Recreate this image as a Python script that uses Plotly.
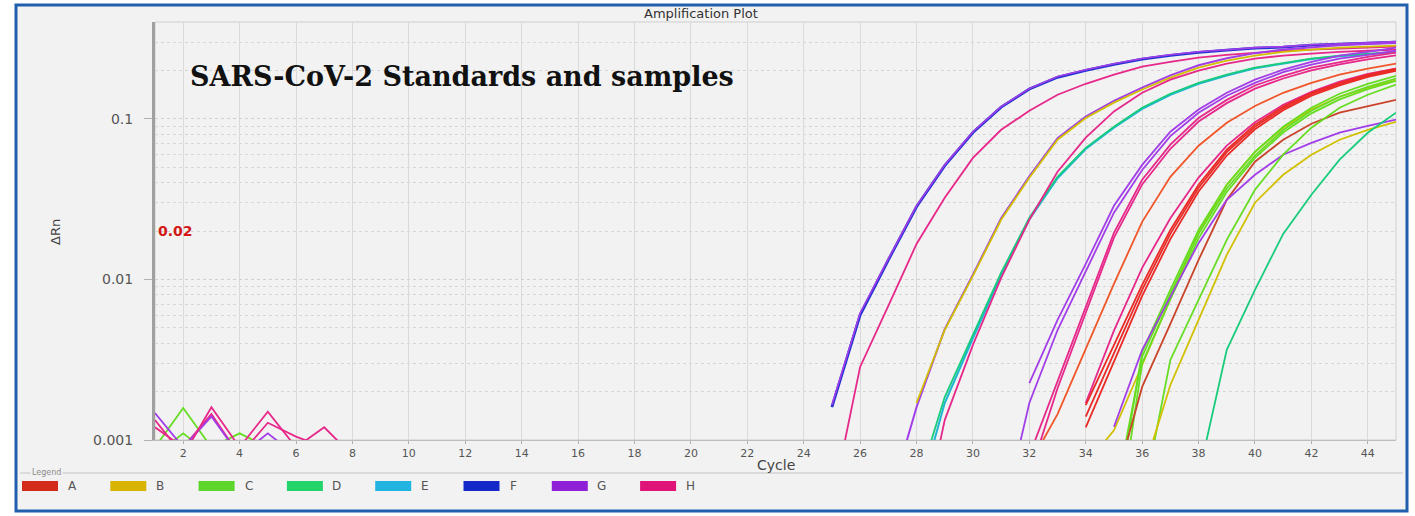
import math
import plotly.graph_objects as go

# ---------------- data ----------------
threshold = 0.02
x_ticks = list(range(2, 45, 2))
y_ticks = [0.001, 0.01, 0.1]
y_tick_text = ["0.001", "0.01", "0.1"]
legend_labels = ["A", "B", "C", "D", "E", "F", "G", "H"]

# baseline noise (cycles 1..)
noise_start = 1
noise_G = [0.00147, 0.0009, 0.0014, 0.0008, 0.0011, 0.0008]
noise_H1 = [0.00133, 0.0008, 0.0016, 0.0009, 0.0015, 0.0009, 0.0012, 0.0008]
noise_H2 = [0.0012, 0.0009, 0.00145, 0.0008, 0.00128, 0.00105, 0.0009]
noise_C1 = [0.0009, 0.00158, 0.0009, 0.0011, 0.0009]
noise_C2 = [0.0008, 0.0011, 0.0008]

# amplification curves: first cycle + ΔRn values per cycle
F1_start = 25
F1 = [0.0016, 0.0060, 0.0132, 0.0283, 0.051, 0.082, 0.118, 0.153, 0.181, 0.200, 0.218,
      0.235, 0.248, 0.259, 0.267, 0.275, 0.279, 0.287, 0.291, 0.296, 0.300]
G1_start = 25
G1 = [0.00165, 0.00618, 0.0134, 0.0287, 0.0516, 0.083, 0.119, 0.154, 0.183, 0.202, 0.220,
      0.237, 0.250, 0.261, 0.269, 0.277, 0.281, 0.289, 0.293, 0.298, 0.302]
H1_start = 25
H1 = [0.0004, 0.00285, 0.00684, 0.0166, 0.0322, 0.057, 0.0853, 0.112, 0.141, 0.165, 0.188,
      0.211, 0.226, 0.240, 0.250, 0.258, 0.265, 0.269, 0.273, 0.277, 0.281]
G2_start = 27
G2 = [0.0004, 0.0016, 0.0049, 0.0107, 0.0240, 0.0438, 0.0755, 0.103, 0.129, 0.156, 0.186,
      0.215, 0.238, 0.256, 0.270, 0.279, 0.287, 0.292, 0.296]
B2_start = 28
B2 = [0.0017, 0.00484, 0.0105, 0.0235, 0.0429, 0.074, 0.101, 0.126, 0.152, 0.180, 0.208,
      0.230, 0.247, 0.261, 0.269, 0.277, 0.281, 0.285]
D2_start = 28
D2 = [0.0005, 0.00185, 0.00451, 0.0110, 0.0242, 0.0435, 0.0659, 0.0891, 0.117, 0.143, 0.167,
      0.188, 0.208, 0.223, 0.237, 0.247, 0.254, 0.261]
E2_start = 28
E2 = [0.0004, 0.0017, 0.0043, 0.0106, 0.0236, 0.0426, 0.0648, 0.088, 0.115, 0.141, 0.165,
      0.186, 0.206, 0.221, 0.235, 0.245, 0.252, 0.259]
H2_start = 28
H2 = [0.0002, 0.00133, 0.00391, 0.0102, 0.0235, 0.0468, 0.0762, 0.111, 0.145, 0.175, 0.199,
      0.220, 0.237, 0.247, 0.254, 0.261, 0.265, 0.269]
G3a_start = 32
G3a = [0.00226, 0.0056, 0.0125, 0.0287, 0.0516, 0.083, 0.114, 0.145, 0.175, 0.202, 0.226,
       0.247, 0.261, 0.277]
G3b_start = 31
G3b = [0.0003, 0.0017, 0.00484, 0.0111, 0.026, 0.048, 0.078, 0.109, 0.139, 0.167, 0.195,
       0.217, 0.237, 0.250, 0.265]
H3a_start = 32
H3a = [0.0008, 0.00233, 0.00674, 0.0195, 0.0417, 0.0689, 0.101, 0.131, 0.161, 0.185, 0.208,
       0.226, 0.243, 0.258]
H3b_start = 32
H3b = [0.0006, 0.0021, 0.0062, 0.0182, 0.039, 0.065, 0.096, 0.125, 0.154, 0.178, 0.200,
       0.218, 0.234, 0.248]
H4_start = 34
H4 = [0.0017, 0.0048, 0.0118, 0.024, 0.043, 0.068, 0.095, 0.122, 0.147, 0.170, 0.190, 0.205]
A1_start = 32
A1 = [0.0007, 0.00145, 0.00369, 0.00938, 0.0228, 0.0435, 0.0679, 0.0944, 0.120, 0.145, 0.167,
      0.188, 0.205, 0.220]
A2_start = 34
A2 = [0.00165, 0.00391, 0.00925, 0.0203, 0.0388, 0.0641, 0.0918, 0.119, 0.145, 0.167, 0.188, 0.205]
A3_start = 34
A3 = [0.0014, 0.0035, 0.0086, 0.0192, 0.0372, 0.062, 0.089, 0.116, 0.142, 0.164, 0.185, 0.202]
A4_start = 34
A4 = [0.0012, 0.0031, 0.0079, 0.0178, 0.0352, 0.059, 0.086, 0.113, 0.139, 0.161, 0.182, 0.199]
B3_start = 34
B3 = [0.0007, 0.00115, 0.00293, 0.00767, 0.0197, 0.0388, 0.0622, 0.0879, 0.114, 0.137, 0.156, 0.173]
C1_start = 35
C1 = [0.0003, 0.00353, 0.0086, 0.0203, 0.0388, 0.0622, 0.0891, 0.117, 0.143, 0.165, 0.185]
C2_start = 35
C2 = [0.0004, 0.0033, 0.0081, 0.0192, 0.0368, 0.059, 0.085, 0.112, 0.137, 0.158, 0.178]
C4_start = 35
C4 = [0.0002, 0.0030, 0.0075, 0.0180, 0.0350, 0.057, 0.082, 0.108, 0.132, 0.153, 0.172]
A5_start = 35
A5 = [0.0005, 0.00214, 0.00528, 0.0132, 0.0313, 0.054, 0.074, 0.0931, 0.109, 0.120, 0.131]
G4_start = 35
G4 = [0.00121, 0.00364, 0.00778, 0.0168, 0.0313, 0.0448, 0.0597, 0.0708, 0.0818, 0.0904, 0.0986]
C3_start = 36
C3 = [0.0004, 0.00315, 0.00745, 0.0176, 0.0361, 0.0597, 0.0879, 0.117, 0.141, 0.163]
B4_start = 36
B4 = [0.0006, 0.0022, 0.0056, 0.0142, 0.030, 0.0448, 0.0597, 0.074, 0.0853, 0.0957]
D3_start = 38
D3 = [0.0006, 0.00364, 0.0086, 0.0192, 0.0336, 0.0556, 0.0818, 0.109]

# ---------------- styling ----------------
line_col = {"A": "#ea2a26", "Ao": "#f0562a", "Ab": "#c9442a", "B": "#d2c000", "C": "#66dd22",
            "D": "#18cc7c", "E": "#1fb5d5", "F": "#2232d2", "G": "#a23ee8", "H": "#e6288a"}
swatch_col = ["#d42a1a", "#d8b400", "#5cd62a", "#22d46a", "#22b4e0", "#1428c8", "#9020d8", "#e01478"]

series = [
    (noise_start, noise_C2, "C", 1.8), (noise_start, noise_C1, "C", 1.8),
    (noise_start, noise_H2, "H", 1.8), (noise_start, noise_G, "G", 1.8),
    (noise_start, noise_H1, "H", 1.8),
    (F1_start, F1, "F", 2.8), (G1_start, G1, "G", 1.6), (H1_start, H1, "H", 1.8),
    (G2_start, G2, "G", 2.0), (B2_start, B2, "B", 1.8),
    (E2_start, E2, "E", 2.0), (D2_start, D2, "D", 1.8), (H2_start, H2, "H", 1.8),
    (G3b_start, G3b, "G", 1.8), (G3a_start, G3a, "G", 1.8),
    (H3b_start, H3b, "H", 1.8), (H3a_start, H3a, "H", 1.8), (H4_start, H4, "H", 1.8),
    (A1_start, A1, "Ao", 1.8),
    (A4_start, A4, "A", 1.8), (A3_start, A3, "A", 1.8), (A2_start, A2, "A", 1.8),
    (B3_start, B3, "B", 1.8), (C4_start, C4, "C", 1.8), (C2_start, C2, "C", 1.8),
    (C1_start, C1, "C", 1.8), (A5_start, A5, "Ab", 1.8), (G4_start, G4, "G", 1.8),
    (C3_start, C3, "C", 1.8), (B4_start, B4, "B", 1.8), (D3_start, D3, "D", 1.8),
]

W_FIG, H_FIG = 1415, 516
L, R, T, B = 155, 1396, 22, 440
PW, PH = R - L, B - T


def px(x):
    return (x - L) / PW


def py(y):
    return (B - y) / PH


fig = go.Figure()
for start, vals, key, w in series:
    fig.add_trace(go.Scatter(
        x=list(range(start, start + len(vals))), y=vals, mode="lines",
        line=dict(color=line_col[key], width=w), showlegend=False, hoverinfo="skip"))

minor_vals = [m * 10 ** e for e in (-3, -2) for m in range(2, 10)] + [0.2, 0.3]

shapes = [
    # outer blue frame
    dict(type="rect", xref="paper", yref="paper", x0=px(16), x1=px(1407), y0=py(511), y1=py(5),
         line=dict(color="#1f5fae", width=3), fillcolor="#f2f2f2", layer="below"),
    # plot border (top/right)
    dict(type="rect", xref="paper", yref="paper", x0=0, x1=1, y0=0, y1=1,
         line=dict(color="#cfcfcf", width=1), layer="below"),
    # threshold
    dict(type="line", xref="paper", yref="y", x0=0, x1=1,
         y0=math.log10(threshold), y1=math.log10(threshold),
         line=dict(color="#86b4e4", width=2)),
    # legend separator
    dict(type="line", xref="paper", yref="paper", x0=px(20), x1=px(1403), y0=py(473), y1=py(473),
         line=dict(color="#c4c4c4", width=1)),
]


def ann(text, x, y, size, color="#444444", family="DejaVu Sans", xanchor="center", **kw):
    d = dict(text=text, x=px(x), y=py(y), xref="paper", yref="paper", showarrow=False,
             xanchor=xanchor, yanchor="middle", font=dict(family=family, size=size, color=color))
    d.update(kw)
    return d


annotations = [
    ann("Amplification Plot", 701, 14, 13, "#333333"),
    ann("<b>SARS-CoV-2 Standards and samples</b>", 188, 76, 27, "#111111",
        family="DejaVu Serif", xanchor="left"),
    ann("ΔRn", 55, 232, 13, textangle=-90),
    ann("Cycle", 776, 465, 14),
    ann("Legend", 30, 472, 8, "#8a8a8a", xanchor="left", bgcolor="#f2f2f2"),
    dict(text="<b>0.02</b>", x=px(156), y=math.log10(threshold), xref="paper", yref="y",
         xanchor="left", yanchor="middle", showarrow=False,
         font=dict(family="DejaVu Sans", size=14, color="#d41818")),
]

for i, (lab, col) in enumerate(zip(legend_labels, swatch_col)):
    x0 = 22 + i * 88.3
    shapes.append(dict(type="rect", xref="paper", yref="paper", x0=px(x0), x1=px(x0 + 36),
                       y0=py(491), y1=py(481), fillcolor=col, line=dict(width=0)))
    annotations.append(ann(lab, x0 + 50, 486, 12, "#555555"))

fig.update_layout(
    width=W_FIG, height=H_FIG,
    margin=dict(l=L, r=W_FIG - R, t=T, b=H_FIG - B),
    paper_bgcolor="white", plot_bgcolor="rgba(0,0,0,0)",
    shapes=shapes, annotations=annotations, showlegend=False,
    xaxis=dict(range=[1, 45], tickvals=x_ticks, showgrid=True, gridcolor="#dadada", gridwidth=1,
               zeroline=False, showline=True, linecolor="#bdbdbd", linewidth=1,
               ticks="outside", ticklen=3, tickcolor="#b0b0b0", ticklabelstandoff=0,
               tickfont=dict(family="DejaVu Sans", size=11, color="#555555")),
    yaxis=dict(type="log", range=[-3, math.log10(0.4)], tickvals=y_ticks, ticktext=y_tick_text,
               showgrid=True, gridcolor="#d0d0d0", griddash="dot", zeroline=False,
               showline=True, linecolor="#a0a0a0", linewidth=3,
               ticks="outside", ticklen=8, tickcolor="#b0b0b0", ticklabelstandoff=8,
               tickfont=dict(family="DejaVu Sans", size=14, color="#555555"),
               minor=dict(tickvals=minor_vals, showgrid=True, gridcolor="#d6d6d6",
                          griddash="dot", ticks="")),
)

fig.write_html("out.html", config={"displayModeBar": False},
               post_script="document.body.style.margin='0px';")
